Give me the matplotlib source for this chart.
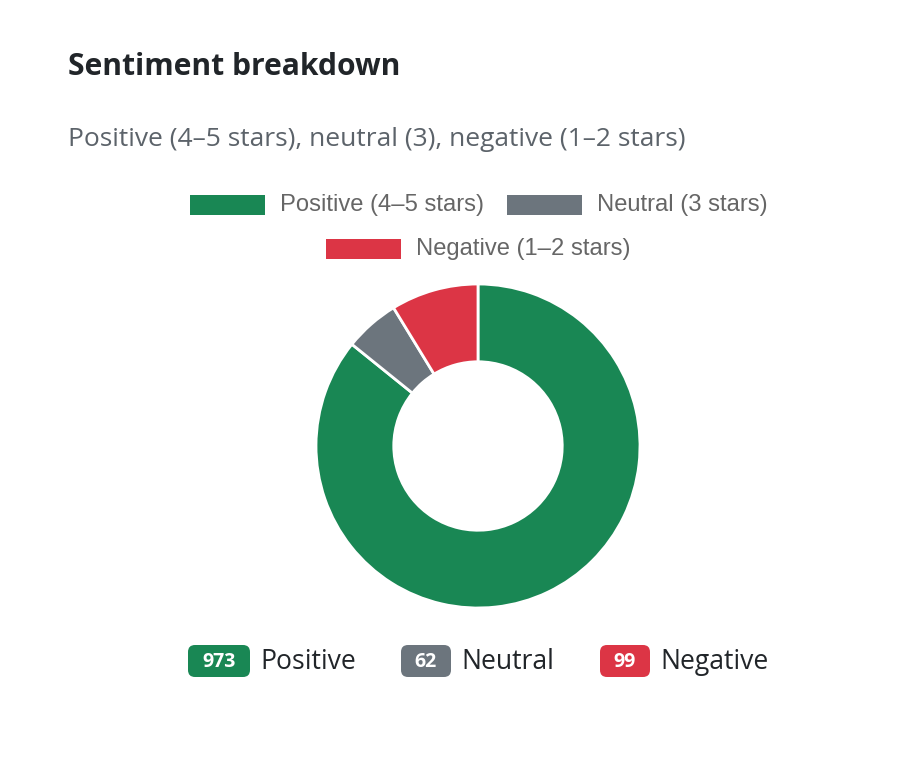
import matplotlib.pyplot as plt
from matplotlib.patches import Rectangle, FancyBboxPatch

# chart data
labels = ["Positive (4\u20135 stars)", "Neutral (3 stars)", "Negative (1\u20132 stars)"]
short_labels = ["Positive", "Neutral", "Negative"]
counts = [973, 62, 99]
colors = ["#198754", "#6c757d", "#dc3545"]

W, H = 920, 771
fig = plt.figure(figsize=(W / 100, H / 100), dpi=100)

# overlay in pixel coordinates for the text bits
ov = fig.add_axes([0, 0, 1, 1])
ov.set_xlim(0, W)
ov.set_ylim(H, 0)
ov.axis("off")

def px(size):
    return size * 72 / 100

ov.text(68, 67, "Sentiment breakdown", fontsize=px(30), fontweight="bold",
        family="Open Sans", color="#212529", va="center", ha="left")
ov.text(68, 140, "Positive (4\u20135 stars), neutral (3), negative (1\u20132 stars)",
        fontsize=px(26.4), family="Open Sans", color="#5c636a", va="center", ha="left")

# legend (chart.js style, centered rows)
leg_pos = [(190, 205), (507, 205), (326, 249)]
for (x, y), lab, c in zip(leg_pos, labels, colors):
    ov.add_patch(Rectangle((x, y - 10), 75, 20, color=c, lw=0))
    ov.text(x + 90, y, lab, fontsize=px(23.8), family="Liberation Sans",
            color="#666666", va="center", ha="left")

# donut
cx, cy, r = 478, 446, 162
ax = fig.add_axes([(cx - r) / W, (H - cy - r) / H, 2 * r / W, 2 * r / H])
ax.pie(counts, colors=colors, startangle=90, counterclock=False,
       wedgeprops=dict(width=0.48, edgecolor="white", linewidth=2))
ax.set_xlim(-1, 1)
ax.set_ylim(-1, 1)
ax.set_aspect("auto")

# count badges
badge_x = [188, 401, 600]
badge_w = [62, 50, 50]
for x, w, n, lab, c in zip(badge_x, badge_w, counts, short_labels, colors):
    ov.add_patch(FancyBboxPatch((x + 7, 645 + 7), w - 14, 32 - 14,
                                boxstyle="round,pad=7", color=c, lw=0))
    ov.text(x + w / 2, 662, str(n), fontsize=px(19.5), fontweight="bold",
            family="Open Sans", color="white", va="center", ha="center")
    ov.text(x + w + 10, 662, lab, fontsize=px(26.5), family="Open Sans",
            color="#212529", va="center", ha="left")

fig.savefig("out.png", dpi=100, facecolor="white")
